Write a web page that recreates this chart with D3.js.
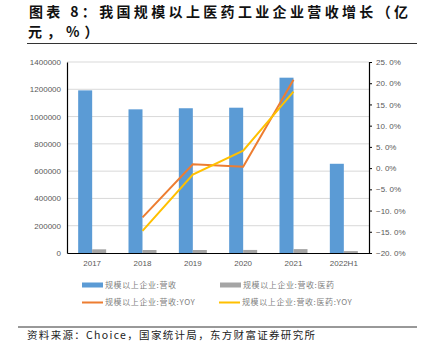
<!DOCTYPE html>
<html>
<head>
<meta charset="utf-8">
<script src="https://cdn.jsdelivr.net/npm/d3@7"></script>
<style>
  body { margin: 0; background: #fff; }
  svg { display: block; }
  .tick text { font-family: "Liberation Sans", Arial, sans-serif; font-size: 8px; fill: #595959; }
  .legend-text { font-family: "Noto Sans CJK SC", sans-serif; font-size: 8px; fill: #7f7f7f; }
</style>
</head>
<body>
<script>
let years = ['2017', '2018', '2019', '2020', '2021', '2022H1']
let revenue = [1192000, 1053000, 1061000, 1065000, 1285000, 654000]
let pharmaRevenue = [27000, 22000, 22000, 22500, 28500, 14000]
let revenueYoy = [null, -11.6, 0.9, 0.3, 20.8, null]
let pharmaYoy = [null, -14.8, -1.5, 4.1, 18.0, null]
let leftTicks = [0, 200000, 400000, 600000, 800000, 1000000, 1200000, 1400000]
let rightTicks = [-20, -15, -10, -5, 0, 5, 10, 15, 20, 25]
let seriesNames = ['规模以上企业:营收', '规模以上企业:营收:医药', '规模以上企业:营收:YOY', '规模以上企业:营收:医药:YOY']
let colors = ['#5b9bd5', '#a5a5a5', '#ed7d31', '#ffc000']

let W = 425, H = 358
let plot = { left: 67, right: 369, top: 62, bottom: 253 }

let svg = d3.select('body').append('svg')
    .attr('width', W)
    .attr('height', H)

// title
let title = svg.append('g')
    .attr('font-family', '"Noto Sans CJK SC", sans-serif')
    .attr('font-weight', 'bold')
    .attr('font-size', '14px')
    .attr('fill', '#111')
title.append('text')
    .attr('x', 29).attr('y', 16.5)
    .attr('textLength', 379)
    .attr('lengthAdjust', 'spacing')
    .text('图表 8：我国规模以上医药工业企业营收增长（亿')
title.append('text')
    .attr('x', 28).attr('y', 36.5)
    .attr('letter-spacing', '5px')
    .text('元，%）')

svg.append('line')
    .attr('x1', 27).attr('x2', 417)
    .attr('y1', 43.5).attr('y2', 43.5)
    .attr('stroke', '#333').attr('stroke-width', 1)

// scales
let x = d3.scaleBand().domain(years).range([plot.left, plot.right])
let yLeft = d3.scaleLinear().domain([0, 1400000]).range([plot.bottom, plot.top])
let yRight = d3.scaleLinear().domain([-20, 25]).range([plot.bottom, plot.top])

//gridlines
svg.append('g')
    .selectAll('line')
    .data(leftTicks.slice(1))
    .enter()
    .append('line')
    .attr('x1', plot.left).attr('x2', plot.right)
    .attr('y1', d => yLeft(d)).attr('y2', d => yLeft(d))
    .attr('stroke', '#d9d9d9').attr('stroke-width', 1)

let barW = 14

//bars
svg.append('g')
    .selectAll('rect')
    .data(years)
    .enter()
    .append('rect')
    .attr('x', (d) => x(d) + x.bandwidth() / 2 - barW)
    .attr('y', (d, i) => yLeft(revenue[i]))
    .attr('width', barW)
    .attr('height', (d, i) => plot.bottom - yLeft(revenue[i]))
    .attr('fill', colors[0])

svg.append('g')
    .selectAll('rect')
    .data(years)
    .enter()
    .append('rect')
    .attr('x', (d) => x(d) + x.bandwidth() / 2)
    .attr('y', (d, i) => yLeft(pharmaRevenue[i]))
    .attr('width', barW)
    .attr('height', (d, i) => plot.bottom - yLeft(pharmaRevenue[i]))
    .attr('fill', colors[1])

//axes
let leftAxis = svg.append('g')
    .attr('transform', 'translate(' + plot.left + ',0)')
    .call(d3.axisLeft(yLeft).tickValues(leftTicks).tickSize(0).tickPadding(6).tickFormat(d3.format('d')))
leftAxis.select('.domain').attr('stroke', '#000').attr('stroke-width', 1.2)

let rightAxis = svg.append('g')
    .attr('transform', 'translate(' + plot.right + ',0)')
    .call(d3.axisRight(yRight).tickValues(rightTicks).tickSize(3).tickPadding(4)
        .tickFormat(d => d3.format('.1f')(d).replace('.', '. ').replace('-', '−') + '%'))
rightAxis.selectAll('.domain, line').attr('stroke', '#000')
rightAxis.select('.domain').attr('stroke-width', 1.2)

let bottomAxis = svg.append('g')
    .attr('transform', 'translate(0,' + plot.bottom + ')')
    .call(d3.axisBottom(x).tickSize(0).tickPadding(7))
bottomAxis.select('.domain').attr('stroke', '#000').attr('stroke-width', 1.2)

//lines
let lineGen = d3.line()
    .defined(d => d.v !== null)
    .x(d => x(d.year) + x.bandwidth() / 2)
    .y(d => yRight(d.v))

let lineSeries = [
    { values: revenueYoy, color: colors[2] },
    { values: pharmaYoy, color: colors[3] }
]
svg.append('g')
    .selectAll('path')
    .data(lineSeries)
    .enter()
    .append('path')
    .attr('d', s => lineGen(years.map((y, i) => ({ year: y, v: s.values[i] }))))
    .attr('fill', 'none')
    .attr('stroke', s => s.color)
    .attr('stroke-width', 2)

//legend
let legendPos = [[82, 285], [220, 285], [82, 302.5], [219, 302.5]]
let legend = svg.append('g')
    .selectAll('g')
    .data(seriesNames)
    .enter()
    .append('g')
    .attr('transform', (d, i) => 'translate(' + legendPos[i][0] + ',' + legendPos[i][1] + ')')

legend.append('rect')
    .attr('x', 0)
    .attr('y', (d, i) => i < 2 ? -2.5 : -1)
    .attr('width', 21)
    .attr('height', (d, i) => i < 2 ? 5 : 2)
    .attr('fill', (d, i) => colors[i])

legend.append('text')
    .attr('class', 'legend-text')
    .attr('x', 23)
    .attr('dy', '0.35em')
    .attr('letter-spacing', '0.6px')
    .text(d => d)

// footer
svg.append('line')
    .attr('x1', 18).attr('x2', 417)
    .attr('y1', 327).attr('y2', 327)
    .attr('stroke', '#333').attr('stroke-width', 1)

svg.append('text')
    .attr('x', 27).attr('y', 339)
    .attr('font-family', '"Noto Sans CJK SC", sans-serif')
    .attr('font-size', '10.5px')
    .attr('fill', '#222')
    .attr('textLength', 288)
    .attr('lengthAdjust', 'spacing')
    .text('资料来源：Choice，国家统计局，东方财富证券研究所')
</script>
</body>
</html>
